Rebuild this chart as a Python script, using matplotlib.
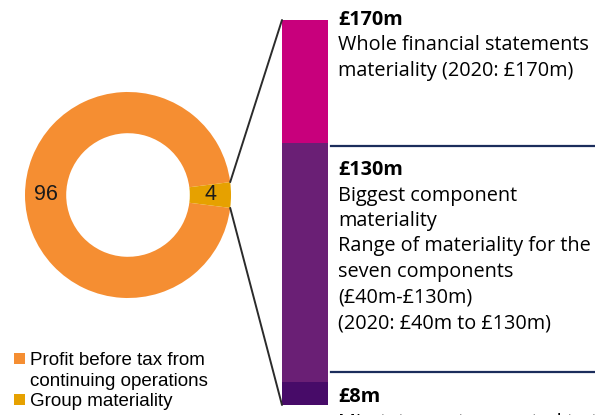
import numpy as np
import matplotlib.pyplot as plt
from matplotlib.patches import ConnectionPatch, Patch
from matplotlib.lines import Line2D

# donut: share of profit before tax used as group materiality
shares = [96, 4]
share_names = [['Profit before tax from', 'continuing operations'], ['Group materiality']]
share_colors = ['#F58E32', '#E6A100']

# materiality ladder (drawn bottom to top), band sizes as % of bar
band_sizes = [6, 62, 32]
band_colors = ['#470B68', '#6A1F75', '#C8007C']

headlines = ['£170m', '£130m', '£8m']
details = [
    ['Whole financial statements', 'materiality (2020: £170m)'],
    ['Biggest component', 'materiality', 'Range of materiality for the',
     'seven components', '(£40m-£130m)', '(2020: £40m to £130m)'],
    ['Misstatements reported to the audit committee'],
]

W, H = 595, 415
fig = plt.figure(figsize=(W / 100, H / 100), dpi=100)


def px_axes(x0, y0, x1, y1):
    return fig.add_axes([x0 / W, 1 - y1 / H, (x1 - x0) / W, (y1 - y0) / H])


# donut
ax_pie = px_axes(25, 92, 231, 298)
wedges, _, pct = ax_pie.pie(
    shares, colors=share_colors, startangle=shares[1] * 3.6 / 2,
    radius=1.0, wedgeprops=dict(width=0.4, linewidth=0),
    autopct=lambda p: f'{p:.0f}', pctdistance=0.8,
    textprops=dict(fontsize=15.5, family='Liberation Sans', color='#1a1a1a'))
ax_pie.set_xlim(-1, 1)
ax_pie.set_ylim(-1, 1)
ax_pie.set_aspect('auto')
ax_pie.axis('off')

# stacked bar
ax_bar = px_axes(282, 20, 328, 405)
bottom = 0
for size, col in zip(band_sizes, band_colors):
    ax_bar.bar(0.5, size, width=1, bottom=bottom, color=col, linewidth=0)
    bottom += size
ax_bar.set_xlim(0, 1)
ax_bar.set_ylim(0, bottom)
ax_bar.axis('off')

# connector lines from the small wedge to the bar
w = wedges[1]
for ang, yend in [(w.theta2, bottom), (w.theta1, 0)]:
    a = np.deg2rad(ang)
    con = ConnectionPatch(xyA=(np.cos(a), np.sin(a)), coordsA=ax_pie.transData,
                          xyB=(0, yend), coordsB=ax_bar.transData,
                          color='#2b2b2b', lw=1.4)
    fig.add_artist(con)

# legend: wrapped label lines get a blank handle so the square sits on the first line
handles, labels = [], []
for wedge, name in zip(wedges, share_names):
    for i, line in enumerate(name):
        handles.append(wedge if i == 0 else Patch(alpha=0))
        labels.append(line)
fig.legend(handles, labels, loc='upper left',
           bbox_to_anchor=(5 / W, 1 - 343 / H),
           frameon=False, handlelength=0.55, handleheight=0.55, handletextpad=0.3,
           labelspacing=0.18, borderpad=0,
           prop=dict(family='Liberation Sans', size=13.5))

# text blocks on the right
font = 'Open Sans'
step = 25.5
starts = [20, 170, 397]
for head, lines, y0 in zip(headlines, details, starts):
    fig.text(338 / W, 1 - y0 / H, head, fontsize=14.3, fontweight='bold',
             family=font, va='center', ha='left', color='black')
    for i, line in enumerate(lines):
        fig.text(338 / W, 1 - (y0 + step * (i + 1)) / H, line, fontsize=14.3,
                 family=font, va='center', ha='left', color='black')

for yline in [146, 372]:
    fig.add_artist(Line2D([331 / W, 1], [1 - yline / H] * 2, color='#1B2D5C', lw=1.6))

fig.savefig('out.png', dpi=100)
